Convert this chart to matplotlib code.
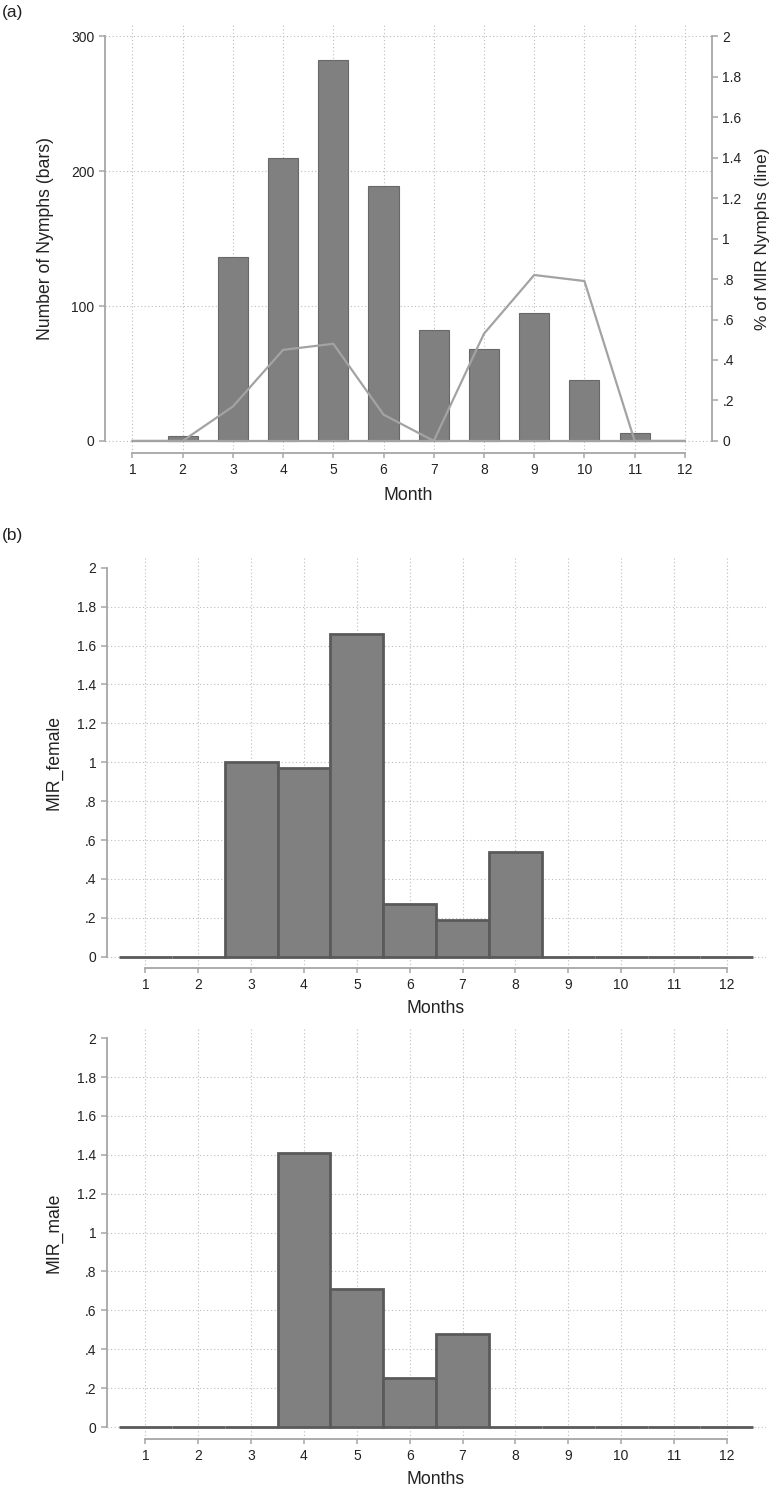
import matplotlib
matplotlib.use("Agg")
import matplotlib.pyplot as plt
import numpy as np

plt.rcParams['font.family'] = ['Liberation Sans', 'DejaVu Sans']

# data ----------------------------------------------------
months = [1, 2, 3, 4, 5, 6, 7, 8, 9, 10, 11, 12]
nymphs = [0, 4, 136, 210, 282, 189, 82, 68, 95, 45, 6, 0]
mir_nymphs = [0, 0, 0.17, 0.45, 0.48, 0.13, 0, 0.53, 0.82, 0.79, 0, 0]
mir_female = [0, 0, 1.0, 0.97, 1.66, 0.27, 0.19, 0.54, 0, 0, 0, 0]
mir_male = [0, 0, 0, 1.41, 0.71, 0.25, 0.48, 0, 0, 0, 0, 0]

count_ticks = [0, 100, 200, 300]
rate_ticks = [0, 0.2, 0.4, 0.6, 0.8, 1.0, 1.2, 1.4, 1.6, 1.8, 2.0]
rate_labels = ["0", ".2", ".4", ".6", ".8", "1", "1.2", "1.4", "1.6", "1.8", "2"]

# style ---------------------------------------------------
spinecol = "#a6a6a6"
gridcol = "#bdbdbd"
barcol = "#808080"
textcol = "#222222"
tickfs = 10
labfs = 12.7


def style_axes(ax, ybounds):
    for s in ["top", "right"]:
        ax.spines[s].set_visible(False)
    for s in ["left", "bottom"]:
        ax.spines[s].set_color(spinecol)
        ax.spines[s].set_linewidth(1.3)
    ax.spines["left"].set_bounds(*ybounds)
    ax.spines["bottom"].set_bounds(months[0], months[-1])
    ax.set_xticks(months)
    ax.tick_params(axis="y", direction="out", length=4.5, width=1.1, color=spinecol,
                   labelsize=tickfs, labelcolor=textcol, pad=3)
    ax.tick_params(axis="x", direction="out", length=3.5, width=1.1, color=spinecol,
                   labelsize=tickfs, labelcolor=textcol, pad=4)
    ax.grid(True, linestyle=(0, (1, 2.2)), linewidth=0.8, color=gridcol)
    ax.set_axisbelow(True)


fig = plt.figure(figsize=(7.74, 14.87), dpi=100)

# (a) nymph counts and MIR --------------------------------
ax = fig.add_axes([0.1357, 0.6954, 0.7842, 0.2878])
edges = ["#686868" if v > 0 else "none" for v in nymphs]
ax.bar(months, nymphs, width=0.6, color=barcol, edgecolor=edges, linewidth=0.8, zorder=2)
ax.set_xlim(0.455, 12.54)
ax.set_ylim(-8.9, 308.3)
ax.set_yticks(count_ticks)
style_axes(ax, (0, 300))
ax.set_ylabel("Number of Nymphs (bars)", fontsize=labfs, color=textcol)
ax.yaxis.set_label_coords(-0.084, 0.5)
ax.set_xlabel("Month", fontsize=labfs, color=textcol)
ax.xaxis.set_label_coords(0.5, -0.079)

ax2 = ax.twinx()
ax2.hlines(0, months[0], months[-1], color="#a3a3a3", linewidth=1.6, zorder=3)
ax2.plot(months, mir_nymphs, color="#a3a3a3", linewidth=1.6, zorder=4)
ax2.set_ylim(-8.9 / 150, 308.3 / 150)
ax2.set_yticks(rate_ticks)
ax2.set_yticklabels(rate_labels)
for s in ["top", "left", "bottom"]:
    ax2.spines[s].set_visible(False)
ax2.spines["right"].set_color(spinecol)
ax2.spines["right"].set_linewidth(1.3)
ax2.spines["right"].set_bounds(0, 2)
ax2.tick_params(axis="y", direction="out", length=4.5, width=1.1, color=spinecol,
                labelsize=tickfs, labelcolor=textcol, pad=3)
ax2.set_ylabel("% of MIR Nymphs (line)", fontsize=12.4, color=textcol, rotation=90)
ax2.yaxis.set_label_coords(1.0708, 0.5)

fig.text(0.003, 0.9915, "(a)", fontsize=12.5, color=textcol, va="center", ha="left")
fig.text(0.003, 0.640, "(b)", fontsize=12.5, color=textcol, va="center", ha="left")

# (b) female and male MIR ----------------------------------
panels = [
    (mir_female, "MIR_female", [0.1377, 0.3490, 0.852, 0.2764], (-0.058, 2.055)),
    (mir_male, "MIR_male", [0.1377, 0.0325, 0.852, 0.2769], (-0.060, 2.058)),
]
for vals, name, rect, ylim in panels:
    axb = fig.add_axes(rect)
    axb.bar(months, vals, width=1.0, color=barcol, edgecolor="#5a5a5a", linewidth=2.0, zorder=2)
    axb.set_xlim(0.267, 12.74)
    axb.set_ylim(*ylim)
    axb.set_yticks(rate_ticks)
    axb.set_yticklabels(rate_labels)
    style_axes(axb, (0, 2))
    axb.get_ygridlines()[-1].set_visible(False)
    axb.set_ylabel(name, fontsize=labfs, color=textcol)
    axb.yaxis.set_label_coords(-0.0676, 0.5)
    axb.set_xlabel("Months", fontsize=labfs, color=textcol)
    axb.xaxis.set_label_coords(0.499, -0.078)

plt.savefig("out.png", dpi=100)
